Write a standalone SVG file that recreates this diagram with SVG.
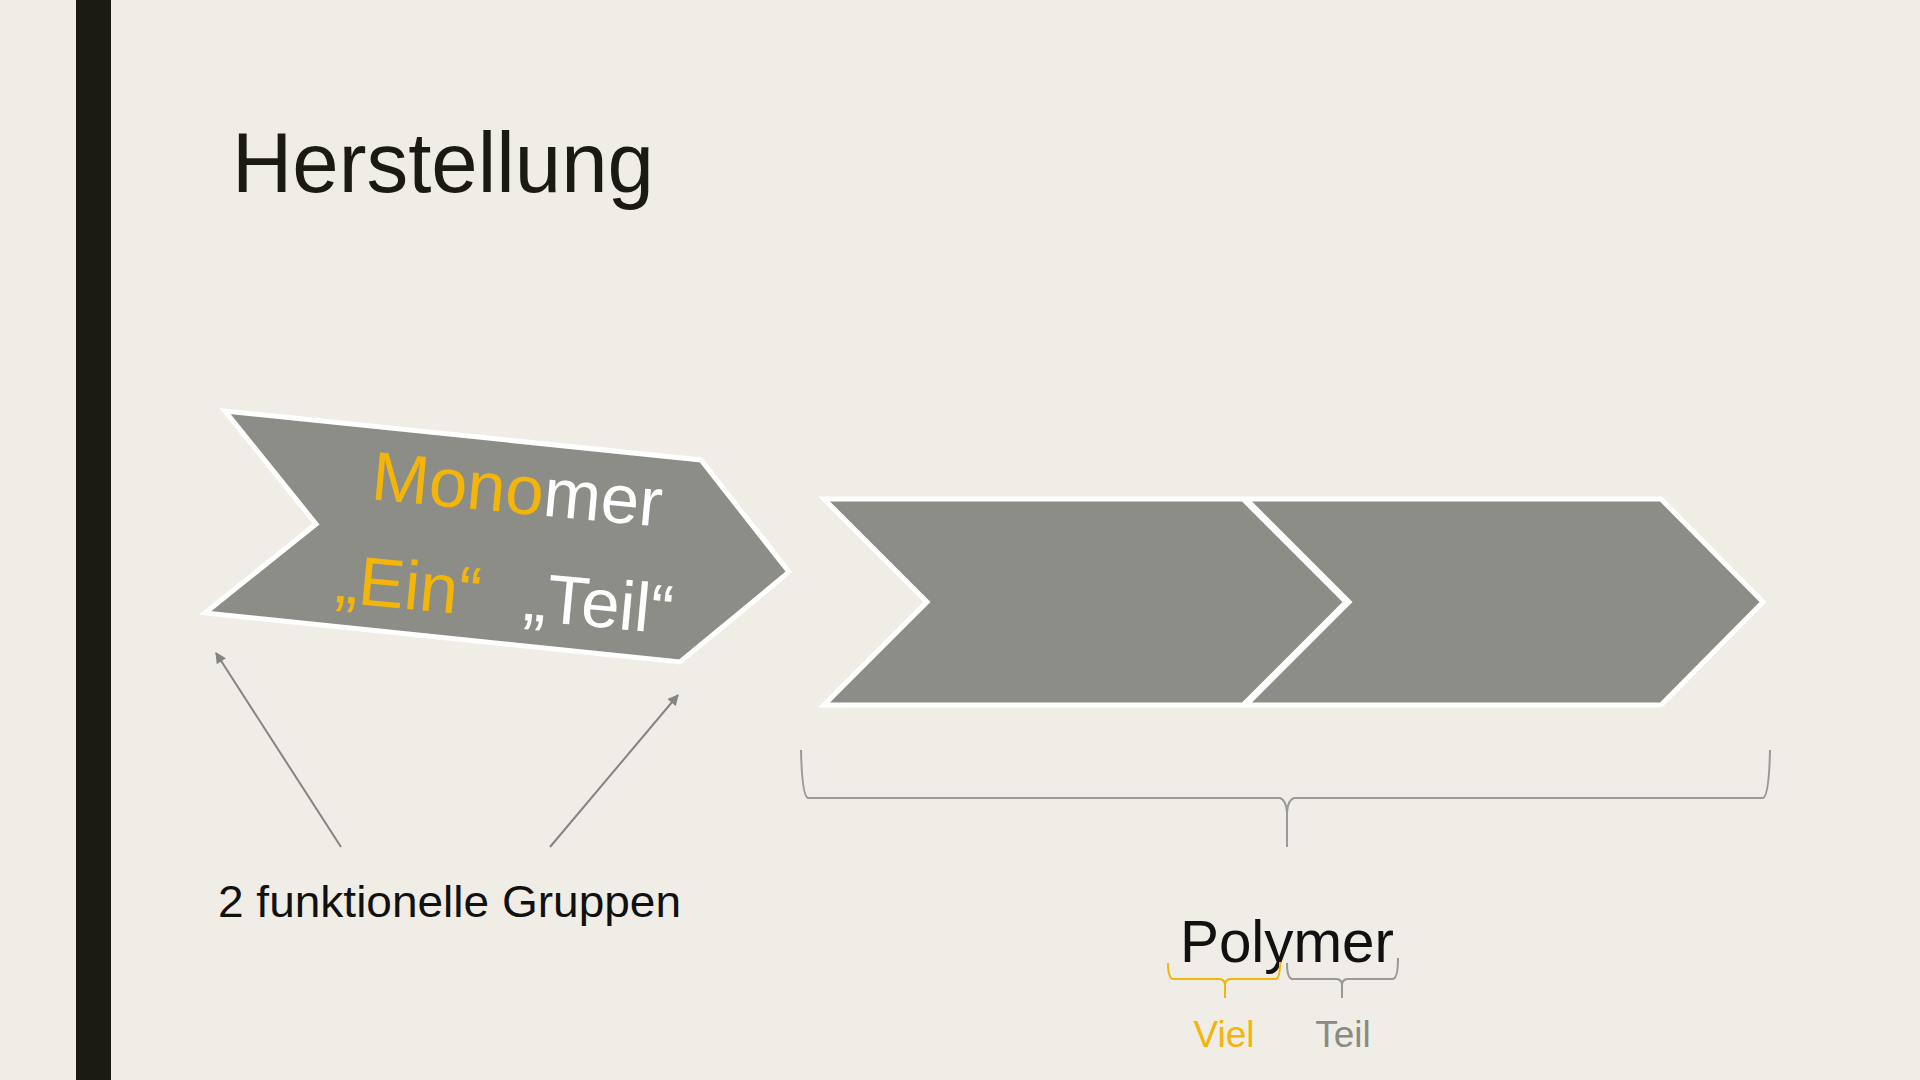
<svg xmlns="http://www.w3.org/2000/svg" width="1920" height="1080" viewBox="0 0 1920 1080">
  <defs>
    <style>
      .shape { fill: #8c8d87; stroke: #ffffff; stroke-width: 5; stroke-linejoin: miter; }
      .sans { font-family: "Liberation Sans", Arial, sans-serif; }
      .yel { fill: #f4b50a; }
      .wht { fill: #ffffff; }
      .conn { stroke: #85857f; stroke-width: 2; fill: none; }
      .brace { stroke: #9a9a94; stroke-width: 2; fill: none; }
    </style>
    <marker id="ah" viewBox="0 0 10 10" refX="9" refY="5" markerWidth="13" markerHeight="11" orient="auto" markerUnits="userSpaceOnUse">
      <path d="M0,0 L10,5 L0,10 z" fill="#85857f"/>
    </marker>
  </defs>
  <rect x="0" y="0" width="1920" height="1080" fill="#f0ede6"/>
  <rect x="76" y="0" width="35" height="1080" fill="#1b1b11"/>

  <g id="title">
    <text class="sans" x="232" y="192" font-size="86" fill="#1a1a12" textLength="422" lengthAdjust="spacingAndGlyphs">Herstellung</text>
  </g>

  <g id="monomer">
    <polygon class="shape" points="225,411 701,460 789,572 680,662 205,613 316,524"/>
    <text class="sans" x="515" y="513" font-size="69" text-anchor="middle" transform="rotate(5.4 515 513)"><tspan class="yel">Mono</tspan><tspan class="wht">mer</tspan></text>
    <g transform="rotate(5.4 502 618)">
      <text class="sans yel" x="406" y="618" font-size="69" text-anchor="middle">„Ein“</text>
      <text class="sans wht" x="597" y="618" font-size="69" text-anchor="middle">„Teil“</text>
    </g>
  </g>

  <g id="chevron1">
    <polygon class="shape" points="824,499 1243,499 1346,602 1243,705 824,705 927,602"/>
  </g>
  <g id="chevron2">
    <polygon class="shape" points="1246,499 1661,499 1763,602 1661,705 1246,705 1349,602"/>
  </g>

  <g id="label-groups">
    <text class="sans" x="218" y="917" font-size="45" fill="#111111" textLength="463" lengthAdjust="spacingAndGlyphs">2 funktionelle Gruppen</text>
  </g>

  <g id="polymer">
    <text class="sans" x="1180" y="962" font-size="60" fill="#111111" textLength="214" lengthAdjust="spacingAndGlyphs">Polymer</text>
    <text class="sans yel" x="1224" y="1047" font-size="37" text-anchor="middle">Viel</text>
    <text class="sans" x="1343" y="1047" font-size="37" text-anchor="middle" fill="#8a8a85">Teil</text>
  </g>

  <g id="connectors">
    <line class="conn" x1="341" y1="847" x2="216" y2="653" marker-end="url(#ah)"/>
    <line class="conn" x1="550" y1="847" x2="678" y2="695" marker-end="url(#ah)"/>
    <path class="brace" d="M801,750 Q802,796 808,798 L1280,798 Q1286,800 1287,812 L1287,847 M1287,812 Q1288,800 1294,798 L1763,798 Q1769,796 1770,750"/>
    <path d="M1168,963 Q1168,978 1173,979 L1220,979 Q1225,980 1225,985 L1225,998 M1225,985 Q1225,980 1230,979 L1276,979 Q1280,978 1280,962" fill="none" stroke="#f4b50a" stroke-width="2"/>
    <path d="M1287,963 Q1287,978 1292,979 L1337,979 Q1342,980 1342,985 L1342,998 M1342,985 Q1342,980 1347,979 L1393,979 Q1398,978 1398,958" fill="none" stroke="#9a9a94" stroke-width="2"/>
  </g>
</svg>
